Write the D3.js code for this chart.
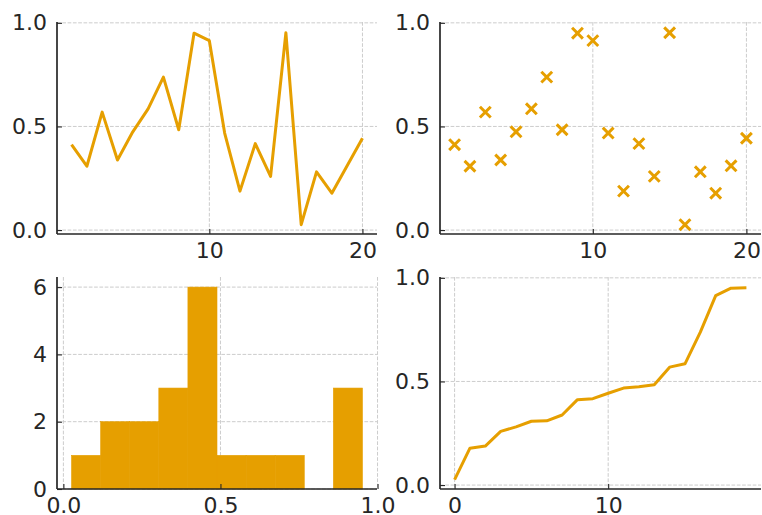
<!DOCTYPE html>
<html>
<head>
<meta charset="utf-8">
<script src="https://cdn.jsdelivr.net/npm/d3@7"></script>
<style>
  body { margin: 0; background: #fff; }
  svg { display: block; }
  .tick text { font-family: "DejaVu Sans", sans-serif; font-size: 22px; fill: #262626; }
</style>
</head>
<body>
<svg id="chart" width="762" height="515"></svg>
<script>
'use strict';

// sample index and random values
const xs = [1, 2, 3, 4, 5, 6, 7, 8, 9, 10, 11, 12, 13, 14, 15, 16, 17, 18, 19, 20];
const values = [0.412, 0.308, 0.569, 0.338, 0.474, 0.585, 0.738, 0.484, 0.950, 0.914,
                0.468, 0.188, 0.417, 0.259, 0.952, 0.026, 0.281, 0.178, 0.310, 0.443];

const xTicksTop = [10, 20];
const yTicksUnit = [0, 0.5, 1];
const xTicksHist = [0, 0.5, 1];
const yTicksHist = [0, 2, 4, 6];
const xTicksSorted = [0, 10];

const COLOR = '#E69F00';
const INK = '#262626';
const GRID = '#cccccc';

const svg = d3.select('#chart');

const cols = [[57, 377], [440, 761]];
const rows = [[22, 234], [277, 489]];

function panel(col, row, xDomain, yDomain, xTicks, yTicks, xFmt, yFmt) {
    const x = d3.scaleLinear().domain(xDomain).range(cols[col]);
    const y = d3.scaleLinear().domain(yDomain).range([rows[row][1], rows[row][0]]);
    const g = svg.append('g');

    // grid
    const grid = g.append('g')
        .attr('stroke', GRID)
        .attr('stroke-width', 1)
        .attr('stroke-dasharray', '3.7,1.6');
    grid.selectAll('.gx').data(xTicks).enter().append('line')
        .attr('x1', d => x(d)).attr('x2', d => x(d))
        .attr('y1', rows[row][0]).attr('y2', rows[row][1]);
    grid.selectAll('.gy').data(yTicks).enter().append('line')
        .attr('y1', d => y(d)).attr('y2', d => y(d))
        .attr('x1', cols[col][0]).attr('x2', cols[col][1]);

    const plot = g.append('g');

    const ax = g.append('g');
    ax.append('g')
        .attr('transform', `translate(0,${rows[row][1]})`)
        .call(d3.axisBottom(x).tickValues(xTicks).tickFormat(xFmt)
            .tickSizeInner(-5).tickSizeOuter(0).tickPadding(8))
        .call(s => s.select('.domain').remove());
    ax.append('g')
        .attr('transform', `translate(${cols[col][0]},0)`)
        .call(d3.axisLeft(y).tickValues(yTicks).tickFormat(yFmt)
            .tickSizeInner(-5).tickSizeOuter(0).tickPadding(10))
        .call(s => s.select('.domain').remove());
    ax.selectAll('.tick line').attr('stroke', INK).attr('stroke-width', 1.1);

    // spines: left and bottom only
    ax.append('line')
        .attr('x1', cols[col][0]).attr('x2', cols[col][1])
        .attr('y1', rows[row][1]).attr('y2', rows[row][1])
        .attr('stroke', INK).attr('stroke-width', 1.7);
    ax.append('line')
        .attr('x1', cols[col][0]).attr('x2', cols[col][0])
        .attr('y1', rows[row][0]).attr('y2', rows[row][1])
        .attr('stroke', INK).attr('stroke-width', 1.7);

    return { x, y, plot };
}

const f1 = d3.format('.1f');
const f0 = d3.format('d');
const yUnit = [-0.019, 1.004];

// top left: line
const p1 = panel(0, 0, [0.05, 20.95], yUnit, xTicksTop, yTicksUnit, f0, f1);
p1.plot.append('path')
    .datum(xs.map((d, i) => [d, values[i]]))
    .attr('fill', 'none')
    .attr('stroke', COLOR)
    .attr('stroke-width', 3)
    .attr('stroke-linejoin', 'round')
    .attr('d', d3.line().x(d => p1.x(d[0])).y(d => p1.y(d[1])));

// top right: scatter with x markers
const p2 = panel(1, 0, [0.05, 20.95], yUnit, xTicksTop, yTicksUnit, f0, f1);
const m = 5.4;
p2.plot.selectAll('path.mk')
    .data(xs.map((d, i) => [d, values[i]]))
    .enter().append('path')
    .attr('fill', 'none')
    .attr('stroke', COLOR)
    .attr('stroke-width', 3)
    .attr('d', d => {
        const cx = p2.x(d[0]), cy = p2.y(d[1]);
        return `M${cx - m},${cy - m}L${cx + m},${cy + m}M${cx - m},${cy + m}L${cx + m},${cy - m}`;
    });

// bottom left: histogram, 10 equal bins between min and max
const [lo, hi] = d3.extent(values);
const step = (hi - lo) / 10;
const bins = d3.bin()
    .domain([lo, hi])
    .thresholds(d3.range(1, 10).map(i => lo + i * step))(values);
const pad = (hi - lo) * 0.05;
const yMaxHist = d3.max(bins, b => b.length) * 1.05;
const p3 = panel(0, 1, [lo - pad, hi + pad], [0, yMaxHist], xTicksHist, yTicksHist, f1, f0);
p3.plot.selectAll('rect')
    .data(bins.filter(b => b.length > 0))
    .enter().append('rect')
    .attr('x', d => p3.x(d.x0))
    .attr('width', d => p3.x(d.x1) - p3.x(d.x0))
    .attr('y', d => p3.y(d.length))
    .attr('height', d => p3.y(0) - p3.y(d.length))
    .attr('fill', COLOR)
    .attr('stroke', COLOR)
    .attr('stroke-width', 0.6);

// bottom right: sorted values
const sorted = values.slice().sort(d3.ascending);
const p4 = panel(1, 1, [-0.95, 19.95], yUnit, xTicksSorted, yTicksUnit, f0, f1);
p4.plot.append('path')
    .datum(sorted)
    .attr('fill', 'none')
    .attr('stroke', COLOR)
    .attr('stroke-width', 3)
    .attr('stroke-linejoin', 'round')
    .attr('d', d3.line().x((d, i) => p4.x(i)).y(d => p4.y(d)));
</script>
</body>
</html>
